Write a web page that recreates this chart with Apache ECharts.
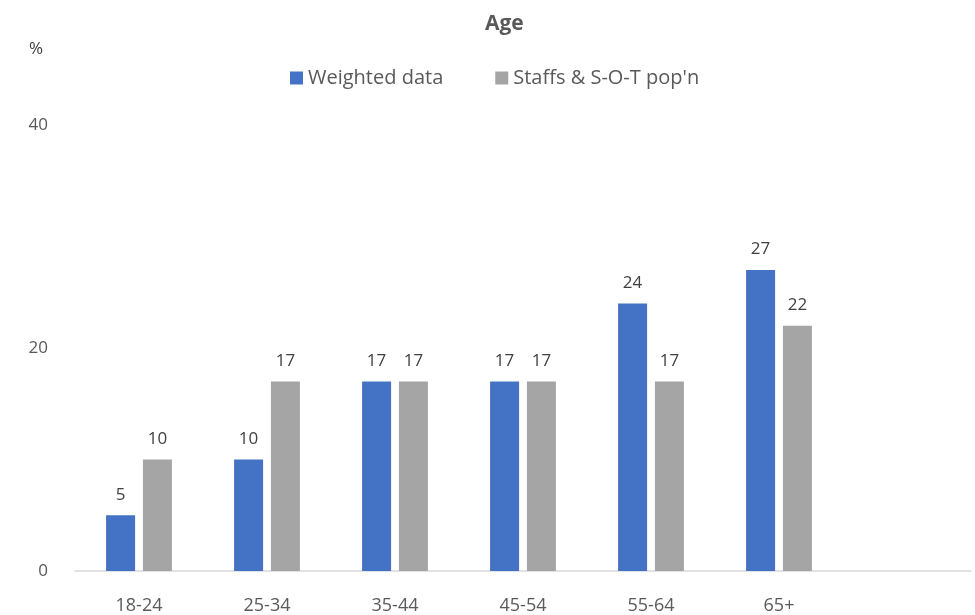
<!DOCTYPE html>
<html>
<head>
<meta charset="utf-8">
<title>Age</title>
<script src="https://cdn.jsdelivr.net/npm/echarts@6/dist/echarts.min.js"></script>
<style>
  html, body { margin: 0; padding: 0; background: #fff; }
  #chart { width: 975px; height: 615px; }
</style>
</head>
<body>
<div id="chart"></div>
<script>
// age bands, last slot left empty like the original sheet
var categories = ['18-24', '25-34', '35-44', '45-54', '55-64', '65+', '']
var weighted = [5, 10, 17, 17, 24, 27, null]
var staffsPop = [10, 17, 17, 17, 17, 22, null]
var yTicks = [0, 20, 40]

var chart = echarts.init(document.getElementById('chart'))

var font = 'Open Sans'
var barLabel = {
  show: true,
  position: 'top',
  distance: 12,
  color: '#404040',
  fontSize: 17,
  fontFamily: font
}

var option = {
  animation: false,
  textStyle: { fontFamily: font },
  title: [
    {
      text: 'Age',
      left: 480,
      top: 9,
      textStyle: { fontSize: 21, fontWeight: 'bold', color: '#595959', fontFamily: font }
    },
    {
      text: '%',
      left: 24,
      top: 36,
      textStyle: { fontSize: 17, fontWeight: 'normal', color: '#404040', fontFamily: font }
    }
  ],
  legend: {
    top: 63,
    left: 285,
    itemWidth: 13,
    itemHeight: 13,
    itemGap: 52,
    icon: 'rect',
    textStyle: { fontSize: 20, color: '#595959', fontFamily: font },
    data: ['Weighted data', "Staffs & S-O-T pop'n"]
  },
  grid: {
    left: 75,
    right: 4,
    top: 125,
    bottom: 43,
    containLabel: false
  },
  xAxis: {
    type: 'category',
    data: categories,
    axisLine: { lineStyle: { color: '#d9d9d9', width: 1.5 } },
    axisTick: { show: false },
    axisLabel: { margin: 26, fontSize: 18, color: '#595959', fontFamily: font }
  },
  yAxis: {
    type: 'value',
    min: yTicks[0],
    max: yTicks[yTicks.length - 1],
    interval: yTicks[1] - yTicks[0],
    axisLine: { show: false },
    axisTick: { show: false },
    splitLine: { show: false },
    axisLabel: { margin: 27, fontSize: 17, color: '#595959', fontFamily: font }
  },
  series: [
    {
      name: 'Weighted data',
      type: 'bar',
      data: weighted,
      barWidth: 29,
      barGap: '27%',
      itemStyle: { color: '#4472C4' },
      label: barLabel
    },
    {
      name: "Staffs & S-O-T pop'n",
      type: 'bar',
      data: staffsPop,
      barWidth: 29,
      itemStyle: { color: '#A5A5A5' },
      label: barLabel
    }
  ]
}

chart.setOption(option)
</script>
</body>
</html>
